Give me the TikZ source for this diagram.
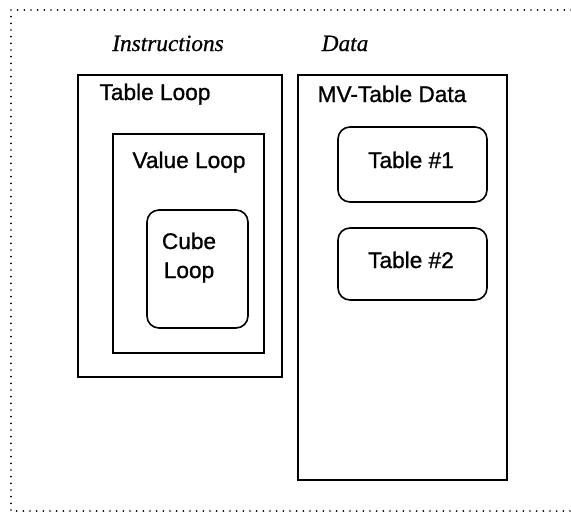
\documentclass[tikz,border=0pt]{standalone}
\usepackage{fontspec}
\setmainfont{Liberation Serif}
\setsansfont{Liberation Sans}
\newfontfamily\lblfont{Liberation Sans}[FakeBold=1]
\newfontfamily\headfont{Liberation Serif}[FakeBold=0.6]
\usetikzlibrary{positioning}
\tikzset{
  box/.style={draw,line width=1.2pt,rectangle,inner sep=0pt},
  rbox/.style={box,rounded corners=9pt},
  lbl/.style={font=\lblfont\fontsize{17}{20}\selectfont,inner sep=0pt,anchor=base},
  head/.style={font=\headfont\itshape\fontsize{17.5}{20}\selectfont,inner sep=0pt,anchor=base},
  frame/.style={line width=1.4pt,line cap=round,dash pattern=on 0pt off 5pt}
}
\begin{document}
\begin{tikzpicture}[x=0.75pt,y=-0.75pt]
\useasboundingbox (0,0) rectangle (571,512);
% dotted frame, open to the right
\draw[frame] (571,10) -- (11,10) -- (11,511) -- (571,511);
\node[head] (instr) at (168,51) {Instructions};
\node[head] (data) at (345,51) {Data};
% instruction loops
\node[box,minimum width=153pt,minimum height=226.5pt] (tloop) at (180,226) {};
\node[box,minimum width=113.25pt,minimum height=164.25pt] (vloop) at (188.5,243.5) {};
\node[rbox,minimum width=75.75pt,minimum height=88.5pt] (cloop) at (197.5,269) {};
\node[lbl] (tlooplbl) at (155,100) {Table Loop};
\node[lbl] (vlooplbl) at (189,168) {Value Loop};
\node[lbl] (cubelbl) at (189,249) {Cube};
\node[lbl] (clooplbl) at (189,278) {Loop};
% data tables
\node[box,minimum width=156.75pt,minimum height=303.75pt] (mvdata) at (402.5,277.5) {};
\node[rbox,minimum width=111.75pt,minimum height=56.25pt] (tab1) at (412.5,164.5) {};
\node[rbox,minimum width=111.75pt,minimum height=54pt] (tab2) at (412.5,264) {};
\node[lbl] (mvlbl) at (392,102) {MV-Table Data};
\node[lbl] (tab1lbl) at (411,168) {Table \#1};
\node[lbl] (tab2lbl) at (411,268) {Table \#2};
\end{tikzpicture}
\end{document}
